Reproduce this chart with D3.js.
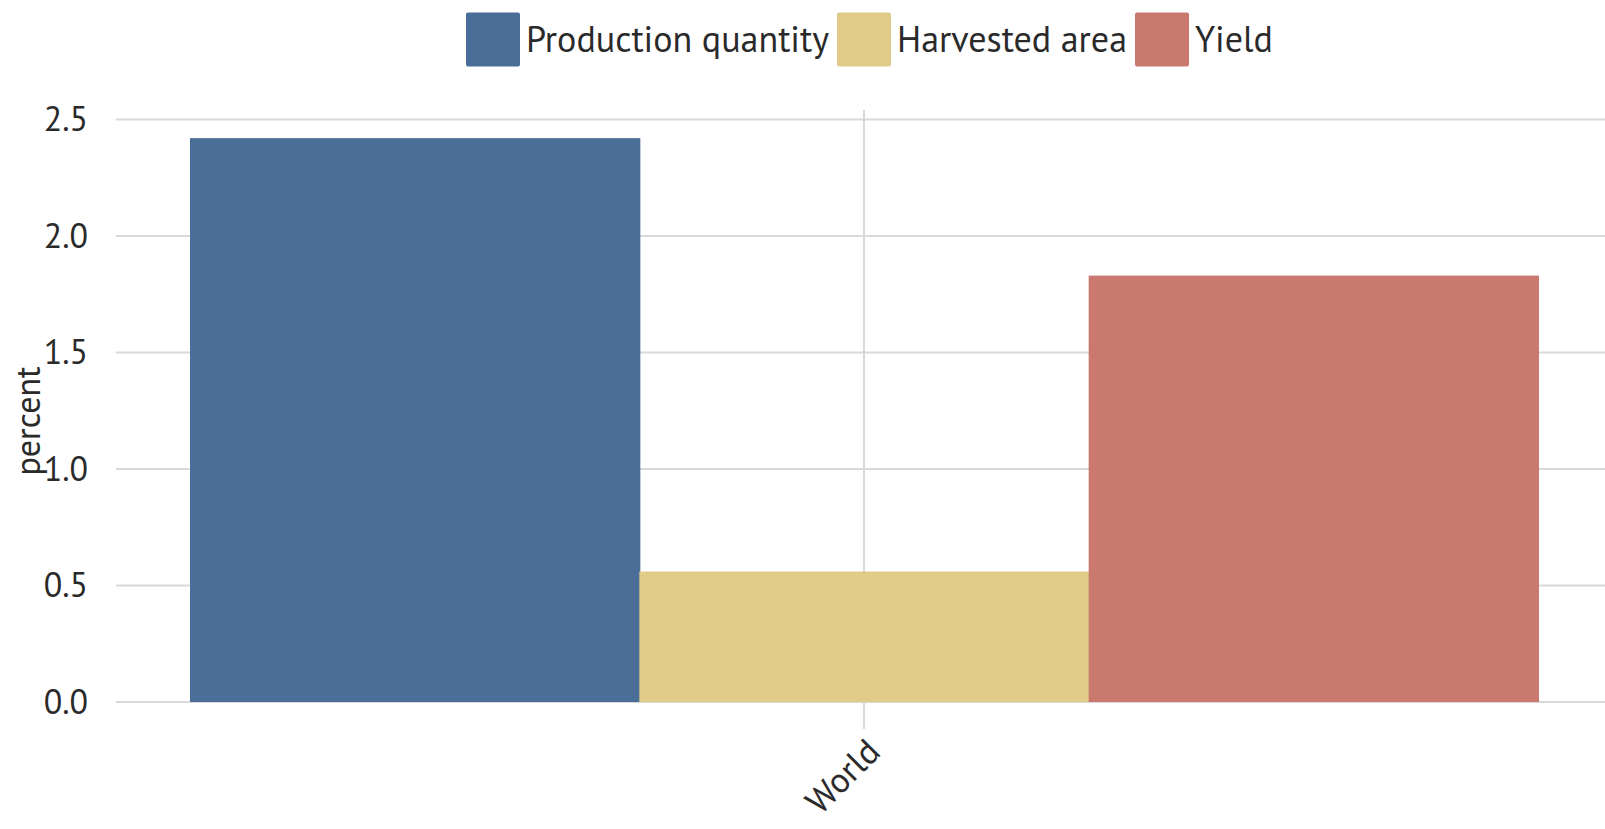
<!DOCTYPE html>
<html>
<head>
<meta charset="utf-8">
<script src="https://cdn.jsdelivr.net/npm/d3@7"></script>
<style>
  html, body { margin: 0; padding: 0; background: #ffffff; }
  svg { display: block; }
  text { font-family: "PT Sans", Lato, "Open Sans", sans-serif; fill: #2a2a2a; }
</style>
</head>
<body>
<svg id="chart" width="1605" height="829"></svg>
<script>
// Growth rates (percent) for the world aggregate
const categories = ["World"];
const seriesNames = ["Production quantity", "Harvested area", "Yield"];
const seriesValues = [2.42, 0.56, 1.83];
const seriesColors = ["#4a6e98", "#e0cb89", "#c9796e"];
const yTicks = [0, 0.5, 1.0, 1.5, 2.0, 2.5];

const svg = d3.select("#chart");
const plot = { left: 116, right: 1605, top: 119.5, bottom: 702 };

const y = d3.scaleLinear().domain([0, 2.5]).range([plot.bottom, plot.top]);
const x0 = d3.scaleBand().domain(categories).range([190, 1538]).padding(0);
const x1 = d3.scaleBand().domain(seriesNames).range([0, x0.bandwidth()]).padding(0);
const color = d3.scaleOrdinal().domain(seriesNames).range(seriesColors);

// horizontal grid lines + tick labels
const yAxis = svg.append("g");
yAxis.selectAll("line").data(yTicks).join("line")
  .attr("x1", plot.left).attr("x2", plot.right)
  .attr("y1", d => y(d)).attr("y2", d => y(d))
  .attr("stroke", "#d9d9d9").attr("stroke-width", 2);
yAxis.selectAll("text").data(yTicks).join("text")
  .attr("x", 88).attr("y", d => y(d))
  .attr("dy", "0.35em")
  .attr("text-anchor", "end")
  .style("font-size", "34px")
  .text(d3.format(".1f"));

// vertical grid line at the category centre
const cx = x0("World") + x0.bandwidth() / 2;
svg.append("line")
  .attr("x1", cx).attr("x2", cx)
  .attr("y1", 110).attr("y2", 729)
  .attr("stroke", "#d9d9d9").attr("stroke-width", 2);

// bars
const groups = svg.append("g").selectAll("g").data(categories).join("g")
  .attr("transform", d => `translate(${x0(d)},0)`);
groups.selectAll("rect")
  .data(() => seriesNames.map((s, i) => ({ s, v: seriesValues[i] })))
  .join("rect")
  .attr("x", d => x1(d.s))
  .attr("y", d => y(d.v))
  .attr("width", x1.bandwidth() + 1)
  .attr("height", d => y(0) - y(d.v))
  .attr("fill", d => color(d.s));

// category label, rotated under the tick
svg.append("text")
  .attr("transform", `translate(${cx + 18},${754}) rotate(-45)`)
  .attr("text-anchor", "end")
  .style("font-size", "35px")
  .text(categories[0]);

// y axis title
svg.append("text")
  .attr("transform", `translate(40,421) rotate(-90)`)
  .attr("text-anchor", "middle")
  .style("font-size", "34px")
  .text("percent");

// legend
const legend = svg.append("g");
let lx = 466;
seriesNames.forEach((name, i) => {
  legend.append("rect")
    .attr("x", lx).attr("y", 12.5)
    .attr("width", 54).attr("height", 54)
    .attr("rx", 2)
    .attr("fill", color(name));
  const t = legend.append("text")
    .attr("x", lx + 60).attr("y", 39.5)
    .attr("dy", "0.35em")
    .style("font-size", "36px")
    .text(name);
  lx += 60 + t.node().getComputedTextLength() + 8;
});
</script>
</body>
</html>
